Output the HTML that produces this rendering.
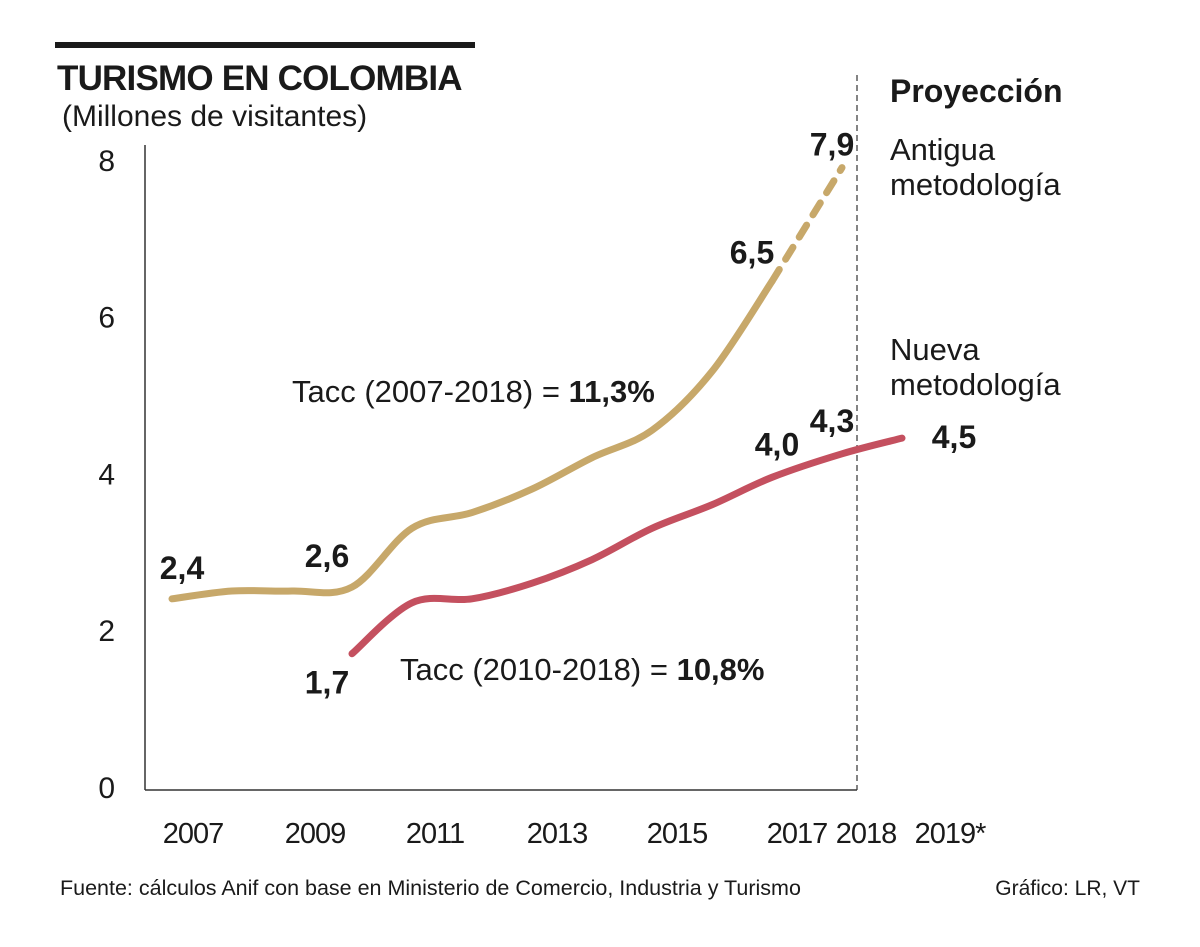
<!DOCTYPE html>
<html><head><meta charset="utf-8"><style>
body{margin:0;background:#fff;}
svg text{font-family:"Liberation Sans Narrow","Liberation Sans",sans-serif;}
</style></head><body>
<svg width="1200" height="942" viewBox="0 0 1200 942" xmlns="http://www.w3.org/2000/svg">
<rect x="55" y="42" width="420" height="6" fill="#1a1a1a"/>
<text x="57" y="90" font-size="35" font-weight="bold" letter-spacing="-0.8" fill="#1a1a1a">TURISMO EN COLOMBIA</text>
<text x="62" y="126" font-size="30" fill="#1a1a1a">(Millones de visitantes)</text>
<line x1="145" y1="145" x2="145" y2="790" stroke="#333" stroke-width="1.5"/>
<line x1="145" y1="790" x2="857" y2="790" stroke="#333" stroke-width="1.5"/>
<line x1="857" y1="75" x2="857" y2="790" stroke="#333" stroke-width="1.2" stroke-dasharray="6,4"/>
<text x="890" y="102" font-size="32" font-weight="bold" fill="#1a1a1a">Proyección</text>
<text x="890" y="160" font-size="31" fill="#1a1a1a">Antigua</text>
<text x="890" y="195" font-size="31" fill="#1a1a1a">metodología</text>
<text x="890" y="360" font-size="31" fill="#1a1a1a">Nueva</text>
<text x="890" y="395" font-size="31" fill="#1a1a1a">metodología</text>
<text x="292" y="402" font-size="31" fill="#1a1a1a">Tacc (2007-2018) = <tspan font-weight="bold">11,3%</tspan></text>
<text x="400" y="680" font-size="31" fill="#1a1a1a">Tacc (2010-2018) = <tspan font-weight="bold">10,8%</tspan></text>
<g id="ticks"></g>
<g id="series"></g>
<text x="60" y="895" font-size="21.5" fill="#1a1a1a">Fuente: cálculos Anif con base en Ministerio de Comercio, Industria y Turismo</text>
<text x="1140" y="895" font-size="21" fill="#1a1a1a" text-anchor="end">Gráfico: LR, VT</text>
</svg>
<script>
const years=[2007,2008,2009,2010,2011,2012,2013,2014,2015,2016,2017,2018,2019];
const oldValues=[2.4,2.5,2.5,2.55,3.3,3.5,3.8,4.2,4.55,5.3,6.45,7.9];
const newValues=[null,null,null,1.7,2.35,2.4,2.6,2.9,3.3,3.6,3.95,4.25,4.45];
const yTicks=[0,2,4,6,8];
const xTickLabels=["2007","2009","2011","2013","2015","2017","2018","2019*"];
const xTickPos=[193,315,435,557,677,797,866,950];
const oldLabels=[[0,"2,4"],[3,"2,6"],[10,"6,5"],[11,"7,9"]];
const newLabels=[[3,"1,7"],[10,"4,0"],[11,"4,3"],[12,"4,5"]];
const NS="http://www.w3.org/2000/svg";
function xs(yr){return yr<=2017?172+(yr-2007)*60:(yr===2018?842:902);}
function ys(v){return 787-v*78.4;}
const tg=document.getElementById('ticks'),sg=document.getElementById('series');
function t(x,y,s,attrs,name,parent){const e=document.createElementNS(NS,'text');e.setAttribute('x',x);e.setAttribute('y',y);e.textContent=s;for(const k in attrs)e.setAttribute(k,attrs[k]);


parent.appendChild(e);return e;}
yTicks.forEach(v=>t(115,ys(v)+11,String(v),{'font-size':30,'text-anchor':'end',fill:'#1a1a1a'},'y-tick-label',tg));
xTickLabels.forEach((s,i)=>t(xTickPos[i],843,s,{'font-size':29,'letter-spacing':'-1','text-anchor':'middle',fill:'#1a1a1a'},'x-tick-label',tg));
function smooth(pts){let d=`M${pts[0][0]},${pts[0][1]}`;for(let i=0;i<pts.length-1;i++){const p0=pts[i-1]||pts[i],p1=pts[i],p2=pts[i+1],p3=pts[i+2]||p2;
d+=` C${p1[0]+(p2[0]-p0[0])/6},${p1[1]+(p2[1]-p0[1])/6} ${p2[0]-(p3[0]-p1[0])/6},${p2[1]-(p3[1]-p1[1])/6} ${p2[0]},${p2[1]}`;}return d;}
function path(d,color,dash,name){const p=document.createElementNS(NS,'path');p.setAttribute('d',d);p.setAttribute('fill','none');p.setAttribute('stroke',color);p.setAttribute('stroke-width',7);p.setAttribute('stroke-linecap','round');if(dash)p.setAttribute('stroke-dasharray',dash);


sg.appendChild(p);}
const oldPts=oldValues.map((v,i)=>[xs(years[i]),ys(v)]);
path(smooth(oldPts.slice(0,11)),'#c7a86a',null,'old-methodology-line');
path(smooth(oldPts.slice(10,12)),'#c7a86a','14,12','old-methodology-projection');
const newPts=[];newValues.forEach((v,i)=>{if(v!==null)newPts.push([xs(years[i]),ys(v)]);});
path(smooth(newPts),'#c4505f',null,'new-methodology-line');
const oldOff={0:[10,-20],3:[-25,-20],10:[-20,-18],11:[-10,-12]};
oldLabels.forEach(([i,s])=>t(oldPts[i][0]+oldOff[i][0],oldPts[i][1]+oldOff[i][1],s,{'font-size':32,'font-weight':'bold','text-anchor':'middle',fill:'#1a1a1a'},'old-value-label',sg));
const newOff={3:[-25,40],10:[5,-22],11:[-10,-22],12:[52,10]};
newLabels.forEach(([i,s])=>{const v=newValues[i];t(xs(years[i])+newOff[i][0],ys(v)+newOff[i][1],s,{'font-size':32,'font-weight':'bold','text-anchor':'middle',fill:'#1a1a1a'},'new-value-label',sg);});
</script>
</body></html>
